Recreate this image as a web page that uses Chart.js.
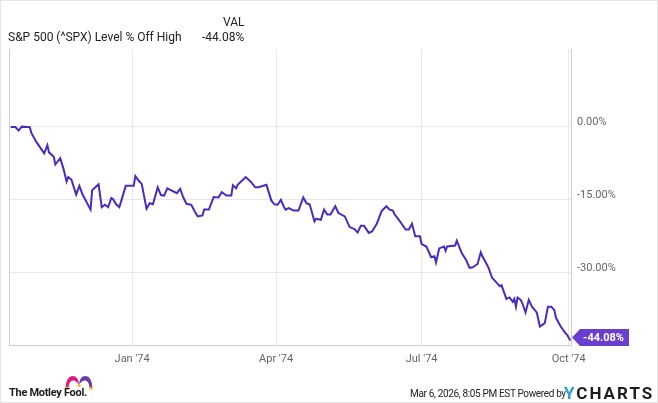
<!DOCTYPE html>
<html>
<head>
<meta charset="utf-8">
<script src="https://cdn.jsdelivr.net/npm/chart.js@4/dist/chart.umd.min.js"></script>
<style>
  html, body { margin: 0; padding: 0; background: #fff; }
  #wrap { position: relative; width: 658px; height: 403px; overflow: hidden; font-family: Roboto, "Liberation Sans", sans-serif; }
  #frame { position: absolute; left: 0; top: 0; width: 658px; height: 403px; box-sizing: border-box; border: 1px solid #e4e4e4; pointer-events: none; }
  canvas { position: absolute; left: 0; top: 0; }
  .t { position: absolute; white-space: nowrap; line-height: 1; }
</style>
</head>
<body>
<div id="wrap">
  <canvas id="c" width="658" height="403"></canvas>
  <div class="t" style="left:223px; top:16px; font-size:12px; color:#222;">VAL</div>
  <div class="t" style="left:8px; top:31px; font-size:12px; color:#222;">S&amp;P 500 (^SPX) Level % Off High</div>
  <div class="t" style="left:202px; top:31px; font-size:12px; color:#222;">-44.08%</div>

  <svg style="position:absolute; left:64px; top:374px;" width="30" height="16" viewBox="0 0 30 16">
    <path d="M1.5 14 Q2.5 2 8.5 2 Q14.5 2 15 11 Q12.5 6.5 9 6.5 Q5 6.5 4.5 14 Z" fill="#e4157f"/>
    <path d="M15 11 Q15.5 2 21.5 2 Q27.5 2 28.5 14 L25.5 14 Q25 6.5 21 6.5 Q17.5 6.5 15 11 Z" fill="#6c3aa8"/>
    <circle cx="3" cy="14.3" r="1.5" fill="#f6b81a"/>
    <circle cx="15" cy="11.5" r="1.5" fill="#f6b81a"/>
    <circle cx="27" cy="14.3" r="1.5" fill="#f6b81a"/>
  </svg>
  <div class="t" style="left:9px; top:387px; font-size:11px; font-weight:bold; color:#1b1b1b; letter-spacing:-0.3px;">The Motley Fool.</div>
  <div class="t" style="left:410px; top:389px; font-size:10px; color:#222; letter-spacing:-0.35px;">Mar 6, 2026, 8:05 PM EST Powered by</div>
  <div class="t" style="left:564px; top:385px; font-size:17px; font-weight:bold; color:#1d1d1d; letter-spacing:2px;"><span style="color:#2a9fd8;">Y</span>CHARTS</div>
  <div id="frame"></div>
</div>
<script>
// ---- Data ----
const seriesName = "S&P 500 (^SPX) Level % Off High";
const dates = ["1973-10-17","1973-10-20","1973-10-22","1973-10-24","1973-10-29","1973-10-30","1973-11-02","1973-11-07","1973-11-09","1973-11-10",
"1973-11-13","1973-11-14","1973-11-17","1973-11-19","1973-11-21","1973-11-22","1973-11-24","1973-11-27","1973-11-29","1973-12-01",
"1973-12-06","1973-12-07","1973-12-11","1973-12-13","1973-12-15","1973-12-17","1973-12-19","1973-12-20","1973-12-22","1973-12-24",
"1973-12-28","1974-01-02","1974-01-03","1974-01-05","1974-01-07","1974-01-10","1974-01-12","1974-01-14","1974-01-17","1974-01-19",
"1974-01-21","1974-01-23","1974-01-29","1974-01-31","1974-02-02","1974-02-04","1974-02-07","1974-02-09","1974-02-11","1974-02-14",
"1974-02-15","1974-02-18","1974-02-21","1974-02-24","1974-02-26","1974-03-01","1974-03-04","1974-03-05","1974-03-07","1974-03-08",
"1974-03-13","1974-03-16","1974-03-19","1974-03-21","1974-03-26","1974-03-29","1974-03-31","1974-04-02","1974-04-04","1974-04-06",
"1974-04-07","1974-04-09","1974-04-12","1974-04-15","1974-04-18","1974-04-20","1974-04-22","1974-04-25","1974-04-26","1974-04-29",
"1974-05-01","1974-05-03","1974-05-05","1974-05-08","1974-05-10","1974-05-14","1974-05-17","1974-05-20","1974-05-22","1974-05-24",
"1974-05-26","1974-05-29","1974-05-31","1974-06-03","1974-06-06","1974-06-09","1974-06-11","1974-06-13","1974-06-14","1974-06-17",
"1974-06-21","1974-06-23","1974-06-25","1974-06-27","1974-06-30","1974-07-01","1974-07-04","1974-07-07","1974-07-09","1974-07-10",
"1974-07-12","1974-07-15","1974-07-16","1974-07-17","1974-07-22","1974-07-23","1974-07-26","1974-07-29","1974-07-31","1974-08-02",
"1974-08-05","1974-08-07","1974-08-08","1974-08-10","1974-08-12","1974-08-14","1974-08-17","1974-08-19","1974-08-20","1974-08-23",
"1974-08-25","1974-08-27","1974-08-28","1974-08-29","1974-08-30","1974-09-01","1974-09-02","1974-09-04","1974-09-06","1974-09-08",
"1974-09-11","1974-09-13","1974-09-16","1974-09-18","1974-09-20","1974-09-22","1974-09-23","1974-09-26","1974-09-29","1974-09-30",
"1974-10-02"];
const pctOffHigh = [-0.1,-0.1,-0.8,0.0,-0.1,-1.3,-3.1,-5.5,-3.8,-5.3,
-6.2,-7.8,-6.5,-8.6,-11.3,-10.4,-10.9,-14.0,-12.2,-14.0,
-17.1,-13.1,-11.9,-16.6,-16.1,-16.6,-14.7,-14.9,-16.0,-16.6,
-12.2,-12.2,-10.2,-11.1,-11.8,-16.9,-15.8,-16.0,-12.5,-14.1,
-14.2,-12.7,-13.7,-12.8,-14.6,-15.9,-16.1,-17.4,-18.5,-18.3,
-17.1,-17.1,-14.5,-14.6,-13.5,-14.2,-14.2,-12.1,-12.7,-12.0,
-10.4,-11.3,-12.5,-12.5,-12.0,-15.2,-16.0,-16.1,-15.1,-16.6,
-17.1,-16.8,-17.3,-17.3,-14.6,-15.8,-16.0,-19.5,-19.0,-19.2,
-17.1,-18.1,-18.1,-16.4,-17.8,-18.5,-20.7,-21.1,-21.8,-20.4,
-20.4,-21.9,-21.6,-20.0,-17.4,-16.4,-17.1,-17.3,-18.0,-19.3,
-21.2,-21.2,-20.0,-22.6,-22.6,-24.2,-24.7,-26.9,-26.7,-28.0,
-25.1,-24.7,-25.6,-24.7,-24.5,-23.5,-26.0,-27.6,-29.1,-29.0,
-28.3,-25.9,-26.7,-27.9,-29.2,-31.1,-32.2,-32.9,-32.7,-35.5,
-35.2,-36.1,-35.5,-37.1,-35.2,-35.7,-36.4,-38.3,-35.7,-37.1,
-38.3,-41.2,-40.5,-37.1,-37.1,-37.8,-39.4,-41.2,-42.6,-42.9,
-44.08];
const xTickDates = ["1974-01-01","1974-04-01","1974-07-01","1974-10-01"];
const xTickLabels = ["Jan '74","Apr '74","Jul '74","Oct '74"];
const yTickValues = [0, -15, -30];
const yTickLabels = ["0.00%","-15.00%","-30.00%"];
const lastLabel = "-44.08%";
const xStart = "1973-10-16";
const xEnd = "1974-10-02T10:00:00Z";
const yMin = -45.0, yMax = 16.0;

// ---- Chart ----
const points = dates.map((d, i) => ({ x: Date.parse(d), y: pctOffHigh[i] }));
const LINE = '#4a2bbf';
const BADGE = '#6a3fcf';

const framePlugin = {
  id: 'frameLeft',
  beforeDatasetsDraw(chart) {
    const { ctx, chartArea: a } = chart;
    ctx.save();
    ctx.strokeStyle = '#cfcfcf';
    ctx.lineWidth = 1;
    ctx.beginPath();
    ctx.moveTo(Math.round(a.left) + 0.5, a.top);
    ctx.lineTo(Math.round(a.left) + 0.5, a.bottom);
    ctx.stroke();
    ctx.restore();
  }
};

const badgePlugin = {
  id: 'lastBadge',
  afterDraw(chart) {
    const { ctx, chartArea: a } = chart;
    const ys = chart.scales.y;
    const v = pctOffHigh[pctOffHigh.length - 1];
    const cy = ys.getPixelForValue(v) - 3;
    const tip = a.right + 1;
    const bodyL = tip + 8, bodyR = 629, h = 17;
    ctx.save();
    ctx.fillStyle = BADGE;
    ctx.beginPath();
    ctx.moveTo(tip, cy);
    ctx.lineTo(bodyL, cy - h / 2);
    ctx.lineTo(bodyR, cy - h / 2);
    ctx.lineTo(bodyR, cy + h / 2);
    ctx.lineTo(bodyL, cy + h / 2);
    ctx.closePath();
    ctx.fill();
    ctx.fillStyle = '#ffffff';
    ctx.font = 'bold 11px Roboto, sans-serif';
    ctx.textBaseline = 'middle';
    ctx.textAlign = 'center';
    ctx.fillText(lastLabel, (bodyL + bodyR) / 2 - 1, cy + 0.5);
    ctx.restore();
  }
};

new Chart(document.getElementById('c'), {
  type: 'line',
  data: {
    datasets: [{
      label: seriesName,
      data: points,
      borderColor: LINE,
      borderWidth: 2,
      pointRadius: 0,
      tension: 0,
      fill: false
    }]
  },
  options: {
    responsive: false,
    animation: false,
    devicePixelRatio: 1,
    layout: { padding: { left: 9, top: 49, right: 0, bottom: 0 } },
    plugins: { legend: { display: false }, tooltip: { enabled: false } },
    scales: {
      x: {
        type: 'linear',
        min: Date.parse(xStart),
        max: Date.parse(xEnd),
        afterBuildTicks(scale) { scale.ticks = xTickDates.map(d => ({ value: Date.parse(d) })); },
        afterFit(scale) { scale.height = 58; },
        grid: { color: '#e8e8e8', drawTicks: false },
        border: { display: true, color: '#cfcfcf' },
        ticks: {
          autoSkip: false, maxRotation: 0, padding: 8,
          color: '#666', font: { family: 'Roboto', size: 11 },
          callback: (val, i) => xTickLabels[i]
        }
      },
      y: {
        position: 'right',
        min: yMin, max: yMax,
        afterBuildTicks(scale) { scale.ticks = yTickValues.map(v => ({ value: v })); },
        afterFit(scale) { scale.width = 87; },
        grid: { color: '#e8e8e8', drawTicks: false },
        border: { display: true, color: '#cfcfcf' },
        ticks: {
          padding: 6, labelOffset: -4,
          color: '#666', font: { family: 'Roboto', size: 11 },
          callback: (val, i) => yTickLabels[i]
        }
      }
    }
  },
  plugins: [framePlugin, badgePlugin]
});
</script>
</body>
</html>
